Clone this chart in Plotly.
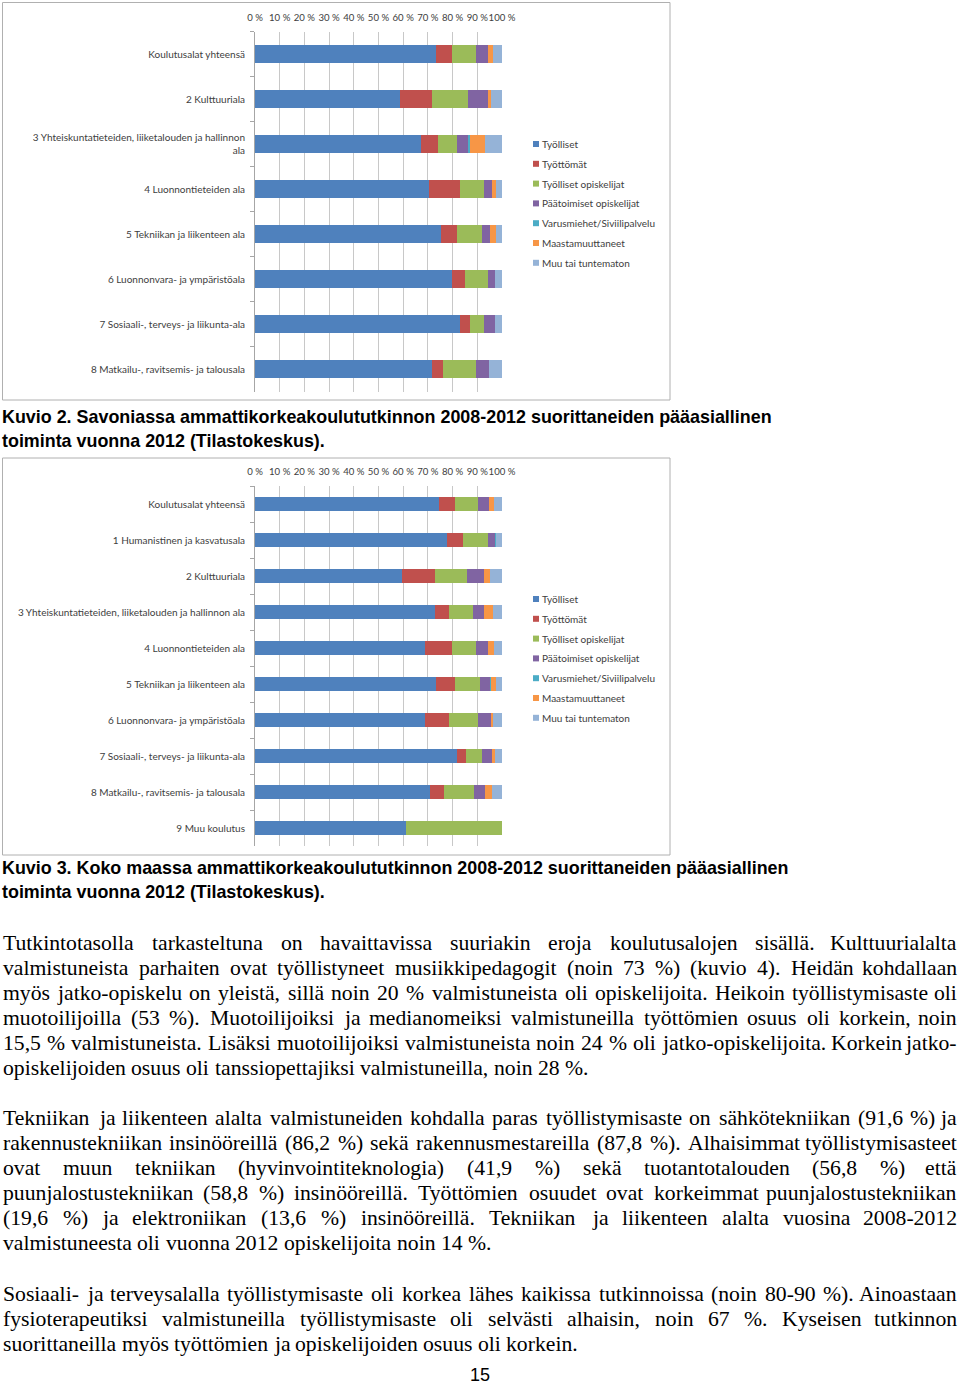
import plotly.graph_objects as go

# ---------------- DATA ----------------
series = ["Työlliset", "Työttömät", "Työlliset opiskelijat", "Päätoimiset opiskelijat",
          "Varusmiehet/Siviilipalvelu", "Maastamuuttaneet", "Muu tai tuntematon"]
colors = ["#4F81BD", "#C0504D", "#9BBB59", "#8064A2", "#4BACC6", "#F79646", "#95B3D7"]

cats1 = ["Koulutusalat yhteensä", "2 Kulttuuriala",
         "3 Yhteiskuntatieteiden, liiketalouden ja hallinnon<br>ala",
         "4 Luonnontieteiden ala", "5 Tekniikan ja liikenteen ala",
         "6 Luonnonvara- ja ympäristöala", "7 Sosiaali-, terveys- ja liikunta-ala",
         "8 Matkailu-, ravitsemis- ja talousala"]
tyolliset1 = [73.4, 58.6, 67.1, 70.4, 75.1, 79.8, 82.9, 71.7]
tyottomat1 = [6.5, 13.0, 6.8, 12.5, 6.7, 5.2, 4.0, 4.3]
tyoll_opisk1 = [9.5, 14.5, 7.9, 9.8, 10.1, 9.5, 5.7, 13.4]
paatoim_opisk1 = [4.8, 8.1, 4.5, 3.4, 3.4, 2.7, 4.6, 5.3]
varusm1 = [0.1, 0.0, 0.6, 0.0, 0.0, 0.0, 0.0, 0.0]
maastam1 = [2.2, 1.5, 6.4, 1.3, 2.1, 0.0, 0.0, 0.0]
muu1 = [3.5, 4.3, 6.7, 2.6, 2.6, 2.8, 2.8, 5.3]

cats2 = ["Koulutusalat yhteensä", "1 Humanistinen ja kasvatusala", "2 Kulttuuriala",
         "3 Yhteiskuntatieteiden, liiketalouden ja hallinnon ala",
         "4 Luonnontieteiden ala", "5 Tekniikan ja liikenteen ala",
         "6 Luonnonvara- ja ympäristöala", "7 Sosiaali-, terveys- ja liikunta-ala",
         "8 Matkailu-, ravitsemis- ja talousala", "9 Muu koulutus"]
tyolliset2 = [74.6, 77.8, 59.5, 72.7, 69.0, 73.4, 68.8, 81.9, 71.0, 61.0]
tyottomat2 = [6.3, 6.3, 13.2, 5.7, 10.7, 7.6, 9.6, 3.7, 5.6, 0.0]
tyoll_opisk2 = [9.4, 10.1, 13.1, 10.0, 9.8, 10.1, 11.8, 6.3, 12.0, 39.0]
paatoim_opisk2 = [4.3, 3.0, 6.9, 4.3, 4.9, 4.2, 5.2, 4.1, 4.4, 0.0]
varusm2 = [0.1, 0.2, 0.1, 0.1, 0.1, 0.1, 0.1, 0.1, 0.1, 0.0]
maastam2 = [2.2, 0.3, 2.3, 3.5, 2.4, 2.1, 0.7, 0.9, 2.7, 0.0]
muu2 = [3.1, 2.3, 4.9, 3.7, 3.1, 2.5, 3.8, 3.0, 4.2, 0.0]

x_ticks = [0, 10, 20, 30, 40, 50, 60, 70, 80, 90, 100]

caption2 = ["Kuvio 2. Savoniassa ammattikorkeakoulututkinnon 2008-2012 suorittaneiden pääasiallinen",
            "toiminta vuonna 2012 (Tilastokeskus)."]
caption3 = ["Kuvio 3. Koko maassa ammattikorkeakoulututkinnon 2008-2012 suorittaneiden pääasiallinen",
            "toiminta vuonna 2012 (Tilastokeskus)."]

para1 = [
    "Tutkintotasolla tarkasteltuna on havaittavissa suuriakin eroja koulutusalojen sisällä. Kulttuurialalta",
    "valmistuneista parhaiten ovat työllistyneet musiikkipedagogit (noin 73 %) (kuvio 4). Heidän kohdallaan",
    "myös jatko-opiskelu on yleistä, sillä noin 20 % valmistuneista oli opiskelijoita. Heikoin työllistymisaste oli",
    "muotoilijoilla (53 %). Muotoilijoiksi ja medianomeiksi valmistuneilla työttömien osuus oli korkein, noin",
    "15,5 % valmistuneista. Lisäksi muotoilijoiksi valmistuneista noin 24 % oli jatko-opiskelijoita. Korkein jatko-",
    "opiskelijoiden osuus oli tanssiopettajiksi valmistuneilla, noin 28 %.",
]
para2 = [
    "Tekniikan ja liikenteen alalta valmistuneiden kohdalla paras työllistymisaste on sähkötekniikan (91,6 %) ja",
    "rakennustekniikan insinööreillä (86,2 %) sekä rakennusmestareilla (87,8 %). Alhaisimmat työllistymisasteet",
    "ovat muun tekniikan (hyvinvointiteknologia) (41,9 %) sekä tuotantotalouden (56,8 %) että",
    "puunjalostustekniikan (58,8 %) insinööreillä. Työttömien osuudet ovat korkeimmat puunjalostustekniikan",
    "(19,6 %) ja elektroniikan (13,6 %) insinööreillä. Tekniikan ja liikenteen alalta vuosina 2008-2012",
    "valmistuneesta oli vuonna 2012 opiskelijoita noin 14 %.",
]
para3 = [
    "Sosiaali- ja terveysalalla työllistymisaste oli korkea lähes kaikissa tutkinnoissa (noin 80-90 %). Ainoastaan",
    "fysioterapeutiksi valmistuneilla työllistymisaste oli selvästi alhaisin, noin 67 %. Kyseisen tutkinnon",
    "suorittaneilla myös työttömien ja opiskelijoiden osuus oli korkein.",
]
page_number = "15"

# ---------------- FIGURE ----------------
W, H = 960, 1387
def px(x):
    return x / W
def py(y):
    return 1 - y / H

fig = go.Figure()
vals1 = [tyolliset1, tyottomat1, tyoll_opisk1, paatoim_opisk1, varusm1, maastam1, muu1]
vals2 = [tyolliset2, tyottomat2, tyoll_opisk2, paatoim_opisk2, varusm2, maastam2, muu2]
for name, col, v in zip(series, colors, vals1):
    fig.add_trace(go.Bar(x=v, y=cats1, orientation="h", name=name, marker_color=col,
                         marker_line_width=0, xaxis="x", yaxis="y", showlegend=False))
for name, col, v in zip(series, colors, vals2):
    fig.add_trace(go.Bar(x=v, y=cats2, orientation="h", name=name, marker_color=col,
                         marker_line_width=0, xaxis="x2", yaxis="y2", showlegend=False))

chart_font = dict(family="Lato, Open Sans, sans-serif", size=10, color="#404040")
tick_font = dict(family="Lato, Open Sans, sans-serif", size=9.6, color="#404040")
grid = "#c8c8c8"
axis_line = "#a6a6a6"

xcommon = dict(range=[0, 100], tickmode="array", tickvals=x_ticks,
               ticktext=[f"{t} %" for t in x_ticks], side="top", showgrid=True,
               gridcolor=grid, gridwidth=1, zeroline=False, showline=False,
               ticks="", tickfont=tick_font, tickangle=0, ticklabelstandoff=8,
               automargin=False, fixedrange=True)
ycommon = dict(type="category", autorange="reversed", showline=True, linecolor=axis_line,
               linewidth=1, ticks="outside", tickson="boundaries", ticklen=4,
               tickcolor=axis_line, showgrid=False, tickfont=chart_font,
               ticklabelstandoff=7, automargin=False, fixedrange=True)

fig.update_layout(
    width=W, height=H, margin=dict(l=0, r=0, t=0, b=0, autoexpand=False),
    paper_bgcolor="white", plot_bgcolor="white",
    barmode="stack", bargap=0.62,
    xaxis=dict(domain=[px(255), px(502)], anchor="y", **xcommon),
    yaxis=dict(domain=[py(391.5), py(31.5)], anchor="x", **ycommon),
    xaxis2=dict(domain=[px(255), px(502)], anchor="y2", **xcommon),
    yaxis2=dict(domain=[py(846), py(486)], anchor="x2", **ycommon),
    showlegend=False,
)

shapes = []
annotations = []

# chart frames
for (y0, y1) in [(2.5, 400), (458, 855)]:
    shapes.append(dict(type="rect", xref="paper", yref="paper", x0=px(2.5), x1=px(670),
                       y0=py(y1), y1=py(y0), line=dict(color="#b0b0b0", width=1)))

# manual legends
for y_start in [144, 599]:
    for i, (name, col) in enumerate(zip(series, colors)):
        yc = y_start + i * 19.8
        shapes.append(dict(type="rect", xref="paper", yref="paper",
                           x0=px(533), x1=px(539), y0=py(yc + 3), y1=py(yc - 3),
                           fillcolor=col, line=dict(width=0)))
        annotations.append(dict(text=name, x=px(541), y=py(yc), xref="paper", yref="paper",
                                xanchor="left", yanchor="middle", showarrow=False,
                                font=chart_font, borderpad=0))

# captions
cap_font = dict(family="Liberation Sans, Arial, sans-serif", size=17.9, color="black", weight="bold")
for lines, ys in [(caption2, [417, 441]), (caption3, [868, 892])]:
    for t, yc in zip(lines, ys):
        annotations.append(dict(text=t, x=px(1), y=py(yc), xref="paper", yref="paper",
                                xanchor="left", yanchor="middle", showarrow=False,
                                font=cap_font, borderpad=0))

# justified body text (Times-compatible advance widths, per 1000 em)
TIMES = {' ': 250, '%': 833, '(': 333, ')': 333, ',': 250, '-': 333, '.': 250, ':': 278,
         'A': 722, 'B': 667, 'C': 667, 'D': 722, 'E': 611, 'F': 556, 'G': 722, 'H': 722,
         'I': 333, 'J': 389, 'K': 722, 'L': 611, 'M': 889, 'N': 722, 'O': 722, 'P': 556,
         'Q': 722, 'R': 667, 'S': 556, 'T': 611, 'U': 722, 'V': 722, 'W': 944, 'X': 722,
         'Y': 722, 'Z': 611,
         'a': 444, 'b': 500, 'c': 444, 'd': 500, 'e': 444, 'f': 333, 'g': 500, 'h': 500,
         'i': 278, 'j': 278, 'k': 500, 'l': 278, 'm': 778, 'n': 500, 'o': 500, 'p': 500,
         'q': 500, 'r': 333, 's': 389, 't': 278, 'u': 500, 'v': 500, 'w': 722, 'x': 500,
         'y': 500, 'z': 444, 'ä': 444, 'ö': 500, 'å': 444, 'Ä': 722, 'Ö': 722}
for d in "0123456789":
    TIMES[d] = 500

FS = 21.7
body_font = dict(family="Liberation Serif, Times New Roman, serif", size=FS, color="black")
LEFT, RIGHT = 2, 958

def wwidth(w, fs):
    return sum(TIMES.get(c, 500) for c in w) * fs / 1000.0

def add_paragraph(lines, y0, fs=FS, font=body_font):
    for li, line in enumerate(lines):
        yc = y0 + li * 25
        words = line.split(" ")
        last = li == len(lines) - 1
        widths = [wwidth(w, fs) for w in words]
        if last or len(words) == 1:
            gap = TIMES[' '] * fs / 1000.0
        else:
            gap = (RIGHT - LEFT - sum(widths)) / (len(words) - 1)
        x = LEFT
        for wi, (w, ww) in enumerate(zip(words, widths)):
            if not last and wi == len(words) - 1:
                annotations.append(dict(text=w, x=px(RIGHT), y=py(yc), xref="paper", yref="paper",
                                        xanchor="right", yanchor="middle", showarrow=False,
                                        font=font, borderpad=0))
            else:
                annotations.append(dict(text=w, x=px(x), y=py(yc), xref="paper", yref="paper",
                                        xanchor="left", yanchor="middle", showarrow=False,
                                        font=font, borderpad=0))
            x += ww + gap

add_paragraph(para1, 942.5)
add_paragraph(para2, 1117.5)
add_paragraph(para3, 1293.5)

annotations.append(dict(text=page_number, x=px(480), y=py(1374.5), xref="paper", yref="paper",
                        xanchor="center", yanchor="middle", showarrow=False,
                        font=dict(family="Liberation Sans, Arial, sans-serif", size=18, color="black"),
                        borderpad=0))

fig.update_layout(shapes=shapes, annotations=annotations)

fig.write_html("out.html", config={"displayModeBar": False, "staticPlot": True},
               post_script="document.body.style.margin='0';document.body.style.overflow='hidden';")
